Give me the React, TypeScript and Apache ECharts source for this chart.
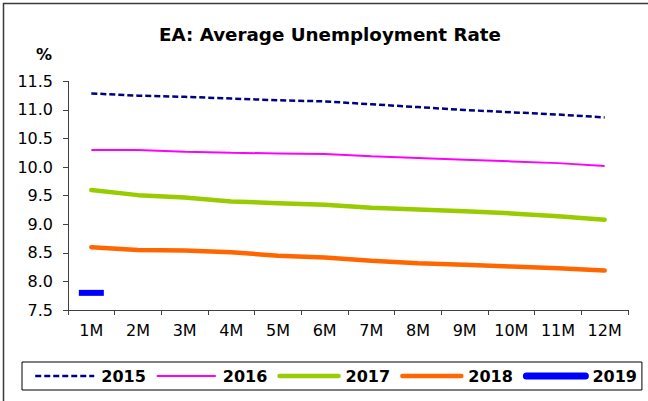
import React, { useEffect, useRef } from "react";
import * as echarts from "echarts";

const months = ["1M", "2M", "3M", "4M", "5M", "6M", "7M", "8M", "9M", "10M", "11M", "12M"];
const years = ["2015", "2016", "2017", "2018", "2019"];
const v2015 = [11.29, 11.25, 11.23, 11.2, 11.17, 11.15, 11.1, 11.05, 11.0, 10.96, 10.92, 10.87];
const v2016 = [10.3, 10.3, 10.27, 10.25, 10.24, 10.23, 10.19, 10.16, 10.13, 10.1, 10.07, 10.02];
const v2017 = [9.6, 9.51, 9.47, 9.4, 9.37, 9.34, 9.29, 9.26, 9.23, 9.19, 9.14, 9.08];
const v2018 = [8.6, 8.55, 8.54, 8.51, 8.45, 8.42, 8.36, 8.32, 8.29, 8.26, 8.23, 8.19];
const v2019 = [7.8];

const FONT = "DejaVu Sans";

export default function App() {
  const ref = useRef<HTMLDivElement>(null);
  useEffect(() => {
    if (!ref.current) return;
    const chart = echarts.init(ref.current, null, { renderer: "svg" });
    const axisColor = "#404040";
    chart.setOption({
      animation: false,
      backgroundColor: "#fff",
      title: {
        text: "EA: Average Unemployment Rate",
        left: 325,
        top: 20,
        textAlign: "center",
        textStyle: { fontFamily: FONT, fontWeight: "bold", fontSize: 18.3, color: "#000" },
      },
      graphic: [
        {
          type: "rect",
          silent: true,
          z: -10,
          shape: { x: 3.5, y: 3.5, width: 700, height: 500 },
          style: { fill: "none", stroke: "#3a3a3a", lineWidth: 1.5 },
        },
        {
          type: "text",
          x: 44,
          y: 54,
          style: {
            text: "%",
            fontFamily: FONT,
            fontWeight: "bold",
            fontSize: 16,
            fill: "#000",
            align: "center",
            verticalAlign: "middle",
          },
        },
      ],
      grid: { left: 68, top: 81.4, right: 20, bottom: 91, containLabel: false },
      legend: {
        left: 22,
        top: 362,
        width: 640,
        itemWidth: 59,
        itemHeight: 14,
        itemGap: 10,
        padding: [6, 5, 6, 12],
        borderColor: "#000",
        borderWidth: 1,
        textStyle: {
          fontFamily: FONT,
          fontWeight: "bold",
          fontSize: 16,
          color: "#000",
          padding: [0, 0, 0, 2],
        },
        data: [
          { name: years[0], itemStyle: { opacity: 0 }, lineStyle: { width: 2.5 } },
          { name: years[1], itemStyle: { opacity: 0 }, lineStyle: { width: 2 } },
          { name: years[2], itemStyle: { opacity: 0 }, lineStyle: { width: 4.5 } },
          { name: years[3], itemStyle: { opacity: 0 }, lineStyle: { width: 4.5 } },
          { name: years[4], itemStyle: { opacity: 0 }, lineStyle: { width: 7 } },
        ],
      },
      xAxis: {
        type: "category",
        data: months,
        boundaryGap: true,
        axisLine: { lineStyle: { color: axisColor, width: 1 } },
        axisTick: { show: true, length: 5, lineStyle: { color: axisColor } },
        axisLabel: { fontFamily: FONT, fontSize: 16, color: "#000", margin: 12, interval: 0 },
        splitLine: { show: false },
      },
      yAxis: {
        type: "value",
        min: 7.5,
        max: 11.5,
        interval: 0.5,
        axisLine: { show: true, lineStyle: { color: axisColor, width: 1 } },
        axisTick: { show: true, length: 5, lineStyle: { color: axisColor } },
        axisLabel: {
          fontFamily: FONT,
          fontSize: 16,
          color: "#000",
          margin: 15,
          formatter: (v: number) => v.toFixed(1),
        },
        splitLine: { show: false },
      },
      series: [
        {
          name: years[0],
          type: "line",
          data: v2015,
          symbol: "none",
          itemStyle: { color: "#000080" },
          lineStyle: { color: "#000080", width: 2.5, type: [6, 3] },
        },
        {
          name: years[1],
          type: "line",
          data: v2016,
          symbol: "none",
          itemStyle: { color: "#FF00FF" },
          lineStyle: { color: "#FF00FF", width: 2 },
        },
        {
          name: years[2],
          type: "line",
          data: v2017,
          symbol: "none",
          itemStyle: { color: "#99CC00" },
          lineStyle: { color: "#99CC00", width: 4.5, cap: "round" },
        },
        {
          name: years[3],
          type: "line",
          data: v2018,
          symbol: "none",
          itemStyle: { color: "#FF6600" },
          lineStyle: { color: "#FF6600", width: 4.5, cap: "round" },
        },
        {
          name: years[4],
          type: "line",
          data: v2019,
          symbol: "rect",
          symbolSize: [25, 6],
          showSymbol: true,
          itemStyle: { color: "#0000FF" },
          lineStyle: { color: "#0000FF", width: 7, cap: "round" },
        },
      ],
    });
    return () => chart.dispose();
  }, []);
  return (
    <div
      ref={ref}
      style={{ position: "absolute", left: 0, top: 0, width: 648, height: 401 }}
    />
  );
}
